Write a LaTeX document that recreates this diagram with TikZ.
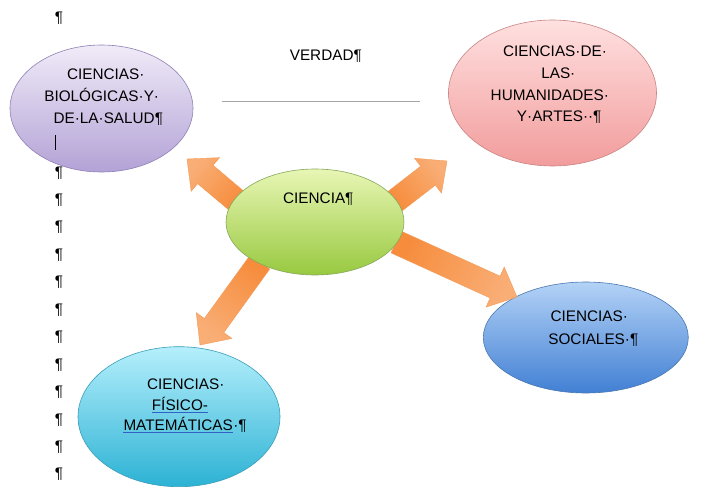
\documentclass[tikz,border=0pt]{standalone}
\usepackage{fontspec}
\setmainfont{Liberation Sans}
\usetikzlibrary{shapes.geometric,calc}
\definecolor{purpT}{HTML}{F0EBF8}
\definecolor{purpB}{HTML}{B3A2D6}
\definecolor{purpD}{HTML}{8F80B5}
\definecolor{pinkT}{HTML}{FFE0E0}
\definecolor{pinkB}{HTML}{F29C9C}
\definecolor{pinkD}{HTML}{C98484}
\definecolor{grnT}{HTML}{E8F6B4}
\definecolor{grnB}{HTML}{98C940}
\definecolor{grnD}{HTML}{86A85A}
\definecolor{bluT}{HTML}{B3D2F6}
\definecolor{bluB}{HTML}{4280D4}
\definecolor{bluD}{HTML}{4A78B0}
\definecolor{cyaT}{HTML}{B5EFFC}
\definecolor{cyaB}{HTML}{2CB2D4}
\definecolor{cyaD}{HTML}{3A9DBA}
\definecolor{arrHead}{HTML}{F9AE76}
\definecolor{arrTail}{HTML}{F68C3C}
\definecolor{arrEdge}{HTML}{F39A55}
\definecolor{ulBlue}{HTML}{2F62C4}
\definecolor{ruleGray}{HTML}{A6A6A6}
\newcommand\blockarr[4]{%
  \coordinate (#3t) at #1;
  \coordinate (#3h) at #2;
  \coordinate (#3b) at ($(#3h)!24pt!(#3t)$);
  \path[arrowfill, shading angle=#4]
    ($(#3t)!12pt!90:(#3h)$) -- ($(#3b)!12pt!-90:(#3t)$) --
    ($(#3b)!22pt!-90:(#3t)$) -- (#3h) --
    ($(#3b)!22pt!90:(#3t)$) -- ($(#3b)!12pt!90:(#3t)$) --
    ($(#3t)!12pt!-90:(#3h)$) -- cycle;
}
\begin{document}
\begin{tikzpicture}[x=1pt,y=-1pt,
  bubble/.style={ellipse, draw, inner sep=0pt, line width=0.6pt},
  txt/.style={anchor=base, inner sep=0pt, font=\fontsize{15.3}{18}\selectfont},
  txtw/.style={anchor=base west, inner sep=0pt, font=\fontsize{15.3}{18}\selectfont},
  arrowfill/.style={top color=arrHead, bottom color=arrTail, draw=arrEdge, line width=0.4pt},
  uline/.style={draw=ulBlue, line width=0.8pt}]
\useasboundingbox (0,0) rectangle (707,495);
\clip (0,0) rectangle (707,495);
\fill[white] (0,0) rectangle (707,495);

% ellipses (under the arrows)
\node[bubble, minimum width=183pt, minimum height=127pt, top color=purpT, bottom color=purpB, draw=purpD] (bio) at (101.5,108.5) {};
\node[bubble, minimum width=208pt, minimum height=146pt, top color=pinkT, bottom color=pinkB, draw=pinkD] (hum) at (552.5,93) {};
\node[bubble, minimum width=205pt, minimum height=111pt, top color=bluT, bottom color=bluB, draw=bluD] (soc) at (585.8,337.5) {};
\node[bubble, minimum width=202pt, minimum height=140pt, top color=cyaT, bottom color=cyaB, draw=cyaD] (fis) at (179,416.7) {};

% block arrows
\blockarr{(238,202)}{(187,159)}{aa}{50}
\blockarr{(394,202)}{(447,161)}{ab}{-53}
\blockarr{(396,242)}{(517,297)}{ac}{-114.5}
\blockarr{(260,262)}{(200,345)}{ad}{144}

% central ellipse
\node[bubble, minimum width=178pt, minimum height=106pt, top color=grnT, bottom color=grnB, draw=grnD] (cien) at (315,222) {};

% texts
\node[txt] (verdad) at (325.8,60) {VERDAD¶};
\coordinate (ruleL) at (221.7,101.7);
\coordinate (ruleR) at (420,101.7);
\draw[ruleGray, line width=1.3pt] (ruleL) -- (ruleR);

\node[txt] (bio1) at (105.8,79.3) {CIENCIAS·};
\node[txt] (bio2) at (101.7,101.7) {BIOLÓGICAS·Y·};
\node[txt] (bio3) at (108.3,123.3) {DE·LA·SALUD¶};
\coordinate (curT) at (55.5,135);
\coordinate (curB) at (55.5,150);
\draw[line width=0.7pt] (curT) -- (curB);

\node[txt] (hum1) at (555,56.7) {CIENCIAS·DE·};
\node[txt] (hum2) at (558.3,78.3) {LAS·};
\node[txt] (hum3) at (549.8,100) {HUMANIDADES·};
\node[txt] (hum4) at (559.2,121.2) {Y·ARTES··¶};

\node[txt] (cien1) at (318.3,203.3) {CIENCIA¶};

\node[txt] (soc1) at (589.2,321.7) {CIENCIAS·};
\node[txt] (soc2) at (593.3,344.3) {SOCIALES·¶};

\node[txt] (fis1) at (185.8,389.5) {CIENCIAS·};
\node[txtw] (fis2) at (151.7,410.3) {FÍSICO-};
\node[txtw] (fis3) at (123.3,430) {MATEMÁTICAS};
\node[txtw] (fis4) at (fis3.base east) {·¶};
\draw[uline] ($(fis2.base west)+(0,2)$) -- ($(fis2.base east)+(0,2)$);
\draw[uline] ($(fis3.base west)+(0,2.5)$) -- ($(fis3.base east)+(0,2.5)$);

% pilcrow column
\node[txt] (p0) at (59,22.5) {¶};
\foreach \i in {0,...,12}{
  \node[txt] (p\i x) at (59,{177+27.45*\i}) {¶};
}
\end{tikzpicture}
\end{document}
